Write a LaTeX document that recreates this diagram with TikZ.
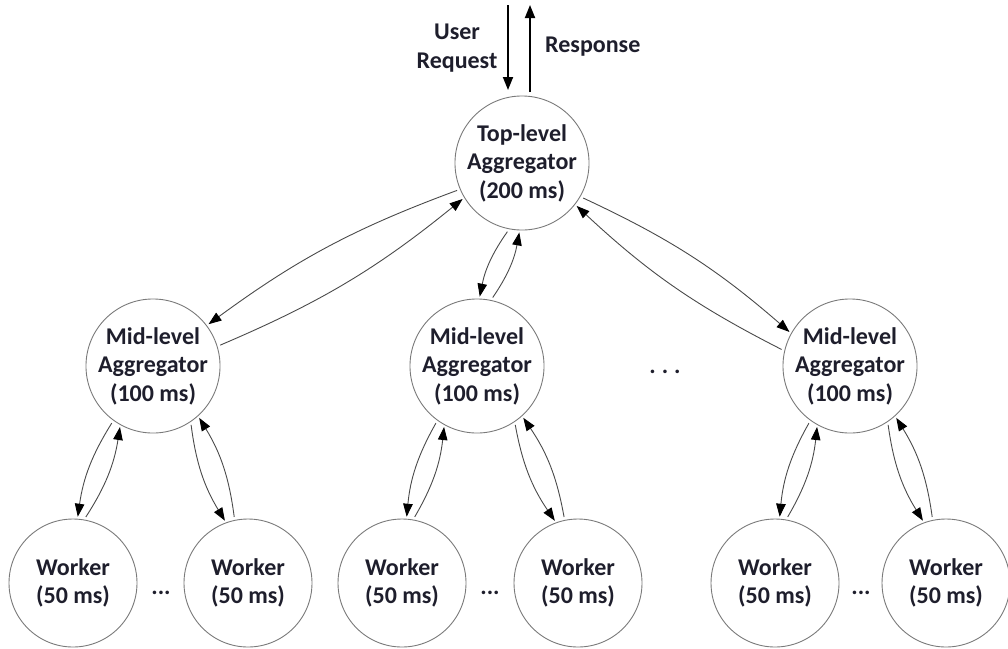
\documentclass[tikz,border=0pt]{standalone}
\usepackage{fontspec}
\setmainfont{Carlito}
\usetikzlibrary{arrows.meta}

\definecolor{ink}{HTML}{1E1E2C}
\definecolor{rim}{HTML}{7A7A7A}
\definecolor{wire}{HTML}{4A4A4A}

\tikzset{
  lblfont/.style={font=\fontsize{24}{28.5}\selectfont\bfseries},
  tier/.style={circle, draw=rim, line width=0.9pt, minimum size=128pt,
    inner sep=0pt, align=center, text=ink, lblfont},
  lbl/.style={text=ink, align=center, inner sep=0pt, lblfont},
  link/.style={draw=wire, line width=0.9pt,
    -{Triangle[length=13pt,width=9.5pt,color=black]}, shorten <=3pt, shorten >=2pt},
  io/.style={draw=black, line width=1.8pt,
    -{Triangle[length=13pt,width=10pt]}},
}

\begin{document}
\begin{tikzpicture}[x=1pt, y=-1pt]
  \useasboundingbox (0,0) rectangle (1008,648);

  % aggregation tree
  \node[tier] (top) at (522,163) {Top-level\\Aggregator\\(200 ms)};

  \node[tier] (midA) at (153,366) {Mid-level\\Aggregator\\(100 ms)};
  \node[tier] (midB) at (477,366) {Mid-level\\Aggregator\\(100 ms)};
  \node[tier] (midC) at (850,366) {Mid-level\\Aggregator\\(100 ms)};

  \node[tier] (wA1) at (73,583)  {Worker\\(50 ms)};
  \node[tier] (wA2) at (248,583) {Worker\\(50 ms)};
  \node[tier] (wB1) at (402,583) {Worker\\(50 ms)};
  \node[tier] (wB2) at (578,583) {Worker\\(50 ms)};
  \node[tier] (wC1) at (775,583) {Worker\\(50 ms)};
  \node[tier] (wC2) at (946,583) {Worker\\(50 ms)};

  % ellipses between siblings
  \node[lbl, anchor=base] (dotsA) at (161,594) {...};
  \node[lbl, anchor=base] (dotsB) at (490,594) {...};
  \node[lbl, anchor=base] (dotsC) at (861,594) {...};
  \node[lbl, anchor=base] (dotsM) at (665,373) {.\hspace{6pt}.\hspace{6pt}.};

  % request / response
  \coordinate (reqIn)  at (508,5);
  \coordinate (reqEnd) at (508,90);
  \coordinate (resStart) at (530,92);
  \coordinate (resOut) at (530,5);
  \draw[io] (reqIn) -- (reqEnd);
  \draw[io] (resStart) -- (resOut);
  \node[lbl] (userreq) at (457,48) {User\\Request};
  \node[lbl, anchor=west] (resp) at (545,47) {Response};

  % top <-> mid-level
  \draw[link] (top.203) to[bend right=8] (midA.37);
  \draw[link] (midA.17) to[bend right=8] (top.211);

  \draw[link] (top.259) to[bend right=12] (midB.88);
  \draw[link] (midB.78) to[bend right=12] (top.268);

  \draw[link] (top.330) to[bend left=8] (midC.151);
  \draw[link] (midC.167) to[bend left=8] (top.322);

  % mid-level <-> workers
  \foreach \m/\l/\r in {midA/wA1/wA2, midB/wB1/wB2, midC/wC1/wC2}{
    \draw[link] (\m.234) to[bend right=12] (\l.86);
    \draw[link] (\l.80) to[bend right=12] (\m.241);
    \draw[link] (\m.304) to[bend right=12] (\r.110);
    \draw[link] (\r.102) to[bend right=12] (\m.312);
  }
\end{tikzpicture}
\end{document}
